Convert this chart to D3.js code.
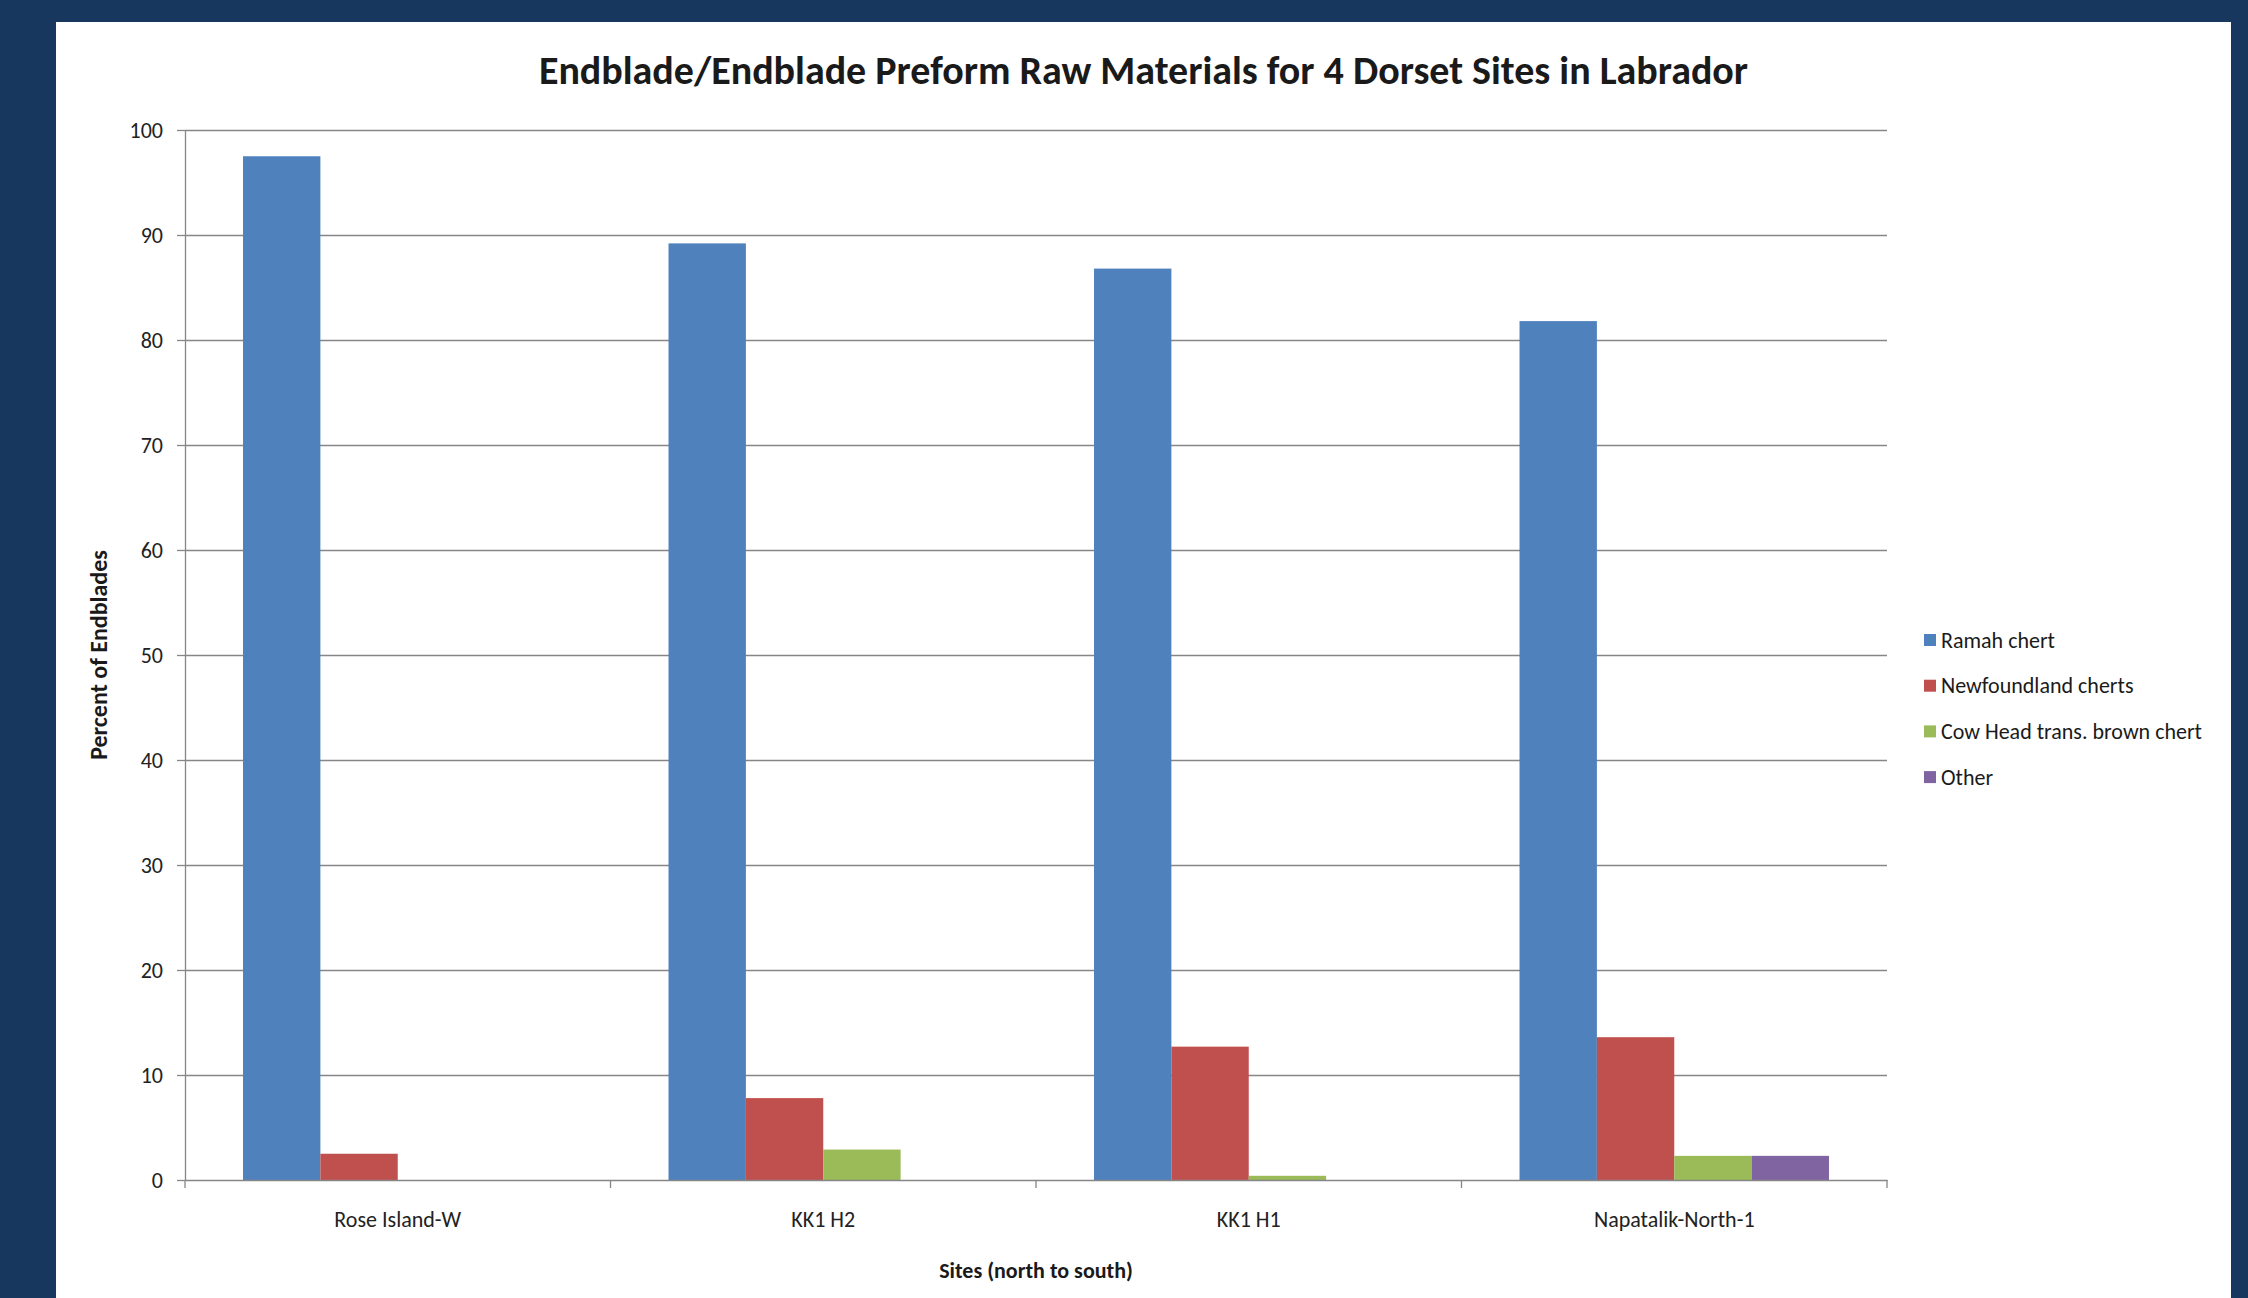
<!DOCTYPE html>
<html>
<head>
<meta charset="utf-8">
<script src="https://cdn.jsdelivr.net/npm/d3@7"></script>
<style>
  html, body { margin: 0; padding: 0; background: #17375e; overflow: hidden; }
  svg { display: block; }
  .chart-text { font-family: Carlito, Calibri, Lato, sans-serif; fill: #1a1a1a; }
  .axis text { font-family: Carlito, Calibri, Lato, sans-serif; font-size: 22px; fill: #222; }
  .axis .domain, .axis line { stroke: #868686; stroke-width: 1.3; }
  .grid line { stroke: #868686; stroke-width: 1.3; }
  .grid .domain { display: none; }
</style>
</head>
<body>
<div id="chart"></div>
<script>
// ---------- Data ----------
const sites = ['Rose Island-W', 'KK1 H2', 'KK1 H1', 'Napatalik-North-1']
const materials = ['Ramah chert', 'Newfoundland cherts', 'Cow Head trans. brown chert', 'Other']
const ramahChert = [97.5, 89.2, 86.8, 81.8]
const newfoundlandCherts = [2.5, 7.8, 12.7, 13.6]
const cowHeadChert = [0, 2.9, 0.4, 2.3]
const otherMaterial = [0, 0, 0, 2.3]
const yTickValues = [0, 10, 20, 30, 40, 50, 60, 70, 80, 90, 100]

const seriesValues = [ramahChert, newfoundlandCherts, cowHeadChert, otherMaterial]
const colors = ['#4f81bd', '#c0504d', '#9bbb59', '#8064a2']

const rows = sites.map((site, i) => ({
  site,
  values: materials.map((m, j) => ({ key: m, value: seriesValues[j][i], color: colors[j] }))
}))

// ---------- Dimensions ----------
const width = 2248
const height = 1298
const panel = { x: 56, y: 22, w: 2175 }
const margin = { top: 130, left: 185, right: width - 1887, bottom: height - 1180 }
const innerW = width - margin.left - margin.right
const innerH = height - margin.top - margin.bottom

// ---------- Scales ----------
const x0 = d3.scaleBand().domain(sites).range([0, innerW]).padding(0)
const x1 = d3.scaleBand().domain(materials).range([0, x0.bandwidth()])
  .paddingInner(0).paddingOuter(0.75)
const y = d3.scaleLinear().domain([0, 100]).range([innerH, 0])

// ---------- SVG ----------
const svg = d3.select('#chart').append('svg')
  .attr('width', width)
  .attr('height', height)

svg.append('rect')
  .attr('x', panel.x).attr('y', panel.y)
  .attr('width', panel.w).attr('height', height)
  .attr('fill', '#ffffff')

// Title
svg.append('text')
  .attr('class', 'chart-text')
  .attr('x', panel.x + panel.w / 2)
  .attr('y', 84)
  .attr('text-anchor', 'middle')
  .attr('font-size', 40)
  .attr('font-weight', 'bold')
  .text('Endblade/Endblade Preform Raw Materials for 4 Dorset Sites in Labrador')

const g = svg.append('g')
  .attr('transform', `translate(${margin.left},${margin.top})`)

// Gridlines
g.append('g')
  .attr('class', 'grid')
  .call(d3.axisLeft(y).tickValues(yTickValues.slice(1)).tickSize(-innerW).tickFormat(''))

// Y axis
g.append('g')
  .attr('class', 'axis y-axis')
  .call(d3.axisLeft(y).tickValues(yTickValues).tickSize(8).tickPadding(14).tickSizeOuter(0))

// Bars
const groups = g.selectAll('.site')
  .data(rows)
  .join('g')
  .attr('class', 'site')
  .attr('transform', d => `translate(${x0(d.site)},0)`)

groups.selectAll('rect')
  .data(d => d.values)
  .join('rect')
  .attr('x', d => x1(d.key))
  .attr('y', d => y(d.value))
  .attr('width', x1.bandwidth())
  .attr('height', d => innerH - y(d.value))
  .attr('fill', d => d.color)

// X axis: labels at band centres, ticks at band boundaries (Excel style)
const xAxis = g.append('g')
  .attr('class', 'axis x-axis')
  .attr('transform', `translate(0,${innerH})`)
  .call(d3.axisBottom(x0).tickSize(0).tickPadding(45).tickSizeOuter(0))
xAxis.selectAll('.tick text').attr('dy', '0.1em')

const boundaries = sites.map(s => x0(s)).concat([x0.range()[1]])
xAxis.selectAll('.boundary')
  .data(boundaries)
  .join('line')
  .attr('class', 'boundary')
  .attr('x1', d => d).attr('x2', d => d)
  .attr('y1', 0).attr('y2', 8)

// Axis titles
svg.append('text')
  .attr('class', 'chart-text')
  .attr('transform', `translate(107,${margin.top + innerH / 2}) rotate(-90)`)
  .attr('text-anchor', 'middle')
  .attr('font-size', 24)
  .attr('font-weight', 'bold')
  .text('Percent of Endblades')

svg.append('text')
  .attr('class', 'chart-text')
  .attr('x', margin.left + innerW / 2)
  .attr('y', 1278)
  .attr('text-anchor', 'middle')
  .attr('font-size', 22)
  .attr('font-weight', 'bold')
  .text('Sites (north to south)')

// Legend
const legend = svg.append('g')
  .attr('transform', 'translate(1924,640)')

const items = legend.selectAll('.legend-item')
  .data(materials)
  .join('g')
  .attr('class', 'legend-item')
  .attr('transform', (_, i) => `translate(0,${i * 45.7})`)

items.append('rect')
  .attr('x', 0).attr('y', -6)
  .attr('width', 12).attr('height', 12)
  .attr('fill', (_, i) => colors[i])

items.append('text')
  .attr('class', 'chart-text')
  .attr('x', 17)
  .attr('dy', '0.35em')
  .attr('font-size', 22)
  .text(d => d)
</script>
</body>
</html>
